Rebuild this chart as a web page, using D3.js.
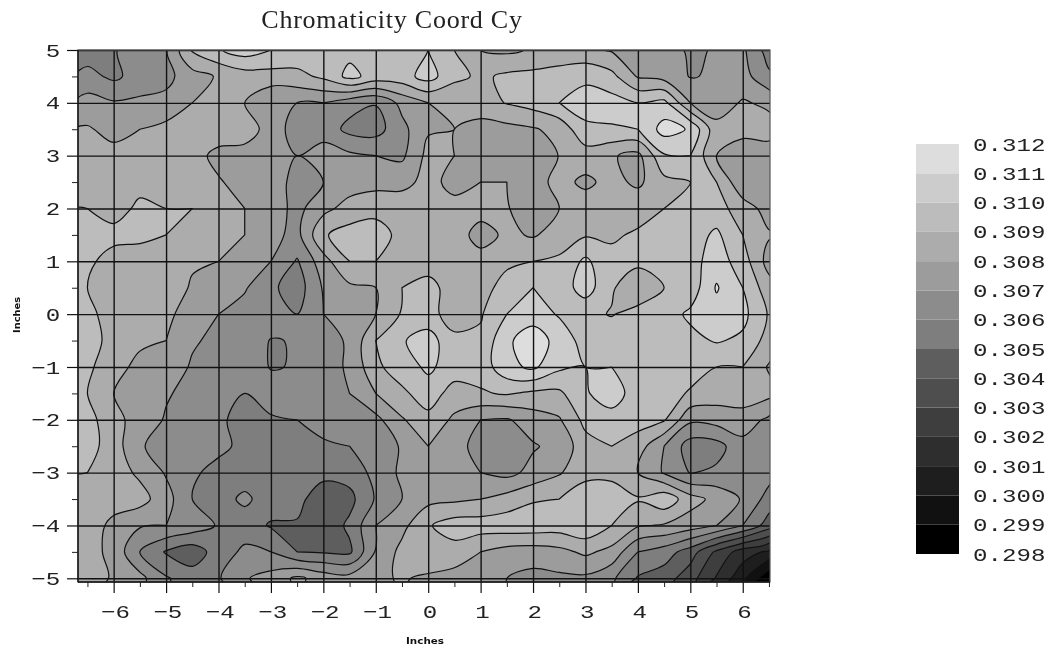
<!DOCTYPE html>
<html>
<head>
<meta charset="utf-8">
<script src="https://cdn.jsdelivr.net/npm/d3@7"></script>
<style>
body { margin: 0; background: #fff; }
svg { display: block; filter: blur(0.3px); }
.tick text { font-family: "Liberation Mono", monospace; fill: #222; }
.title { font-family: "Liberation Serif", serif; font-size: 26px; letter-spacing: 0.75px; fill: #222; }
.unit { font-family: "DejaVu Sans", sans-serif; font-size: 9px; font-weight: bold; fill: #111; }
</style>
</head>
<body>
<svg width="1052" height="650"></svg>
<script>
var gridX = d3.range(27).map(function(i) { return -6.5 + i * 0.5; });
var gridY = d3.range(21).map(function(i) { return 5 - i * 0.5; });

var rowP50 = [305.5,305.9,306.6,306.9,309.1,309.9,310.5,310.0,309.7,309.7,309.7,309.7,309.9,310.0,309.0,308.0,307.8,308.1,308.4,308.2,307.9,307.5,307.3,306.9,307.05,307.2,305.5];
var rowP45 = [306.3,305.8,306.4,306.7,307.6,308.1,308.5,308.6,308.7,309.2,310.3,309.6,309.6,310.4,309.3,308.8,309.2,309.3,309.4,309.8,309.3,307.9,307.6,306.95,307.1,307.4,306.2];
var rowP40 = [307.4,307.1,307.2,307.3,308.0,308.0,308.0,307.0,307.0,307.0,306.4,306.05,307.3,308.0,308.0,308.6,309.05,309.4,310.0,310.4,310.4,310.0,310.3,308.0,307.5,308.1,307.8];
var rowP35 = [308.1,307.7,308.0,308.3,308.5,308.6,308.5,307.6,306.5,306.6,305.7,305.6,306.7,307.9,308.0,307.6,307.7,307.9,308.3,309.8,309.9,310.0,311.4,310.9,308.3,308.5,308.4];
var rowP30 = [308.5,308.3,308.6,308.6,308.4,307.7,307.6,307.2,307.0,307.4,307.2,307.0,306.8,308.3,308.0,307.6,307.6,307.6,308.02,308.5,308.1,307.7,309.9,310.0,308.0,307.1,307.5];
var rowP25 = [308.6,308.7,308.7,308.6,308.5,308.1,307.6,307.3,306.8,307.0,307.5,307.7,307.7,308.3,307.7,308.0,308.0,307.6,308.3,307.8,308.3,307.8,308.7,309.0,309.0,307.2,307.5];
var rowP20 = [309.0,308.6,309.2,309.0,309.0,308.4,308.0,307.5,306.7,307.7,308.4,308.6,308.6,308.6,308.3,308.4,308.05,307.6,308.0,308.5,308.6,308.7,309.0,309.2,309.4,308.5,307.6];
var rowP15 = [309.4,309.3,309.2,309.0,308.9,308.4,308.0,307.3,306.7,308.9,309.4,309.6,308.6,308.6,308.5,307.6,308.2,307.9,308.4,308.9,308.9,309.1,309.4,309.5,310.2,309.0,308.1];
var rowP10 = [309.2,308.6,308.6,308.6,308.1,308.0,307.6,307.0,305.9,307.6,309.0,309.0,308.8,308.6,308.15,308.4,308.9,309.0,309.2,310.2,309.2,309.2,309.5,309.6,310.5,309.5,307.6];
var rowP05 = [309.0,308.5,308.5,308.5,307.9,307.6,307.1,306.2,305.5,307.1,307.8,308.0,309.0,309.3,308.6,308.8,309.2,310.0,309.4,310.5,309.1,308.4,309.0,309.4,311.1,310.0,308.4];
var rowZ00 = [309.3,308.5,308.4,308.1,307.8,307.0,306.6,306.6,306.0,307.0,307.5,308.0,309.1,309.3,308.6,308.9,310.0,310.5,309.9,309.2,308.95,309.3,309.5,310.2,310.6,310.3,308.9];
var rowM05 = [309.5,308.6,308.2,308.0,307.1,306.8,306.6,305.95,306.05,306.7,307.1,309.0,309.9,310.5,309.2,309.2,310.8,311.6,310.6,309.6,309.5,309.5,309.7,309.7,310.1,309.8,308.6];
var rowM10 = [309.2,308.4,307.7,307.5,306.9,306.0,306.5,305.95,306.05,306.7,307.1,308.8,309.5,310.2,309.5,309.4,310.7,311.2,310.2,310.0,310.0,309.5,309.5,309.4,309.0,309.0,307.9];
var rowM15 = [309.0,308.0,307.5,307.1,306.7,306.0,306.0,306.4,306.5,306.6,307.0,308.0,308.8,309.5,308.6,308.9,309.1,308.8,308.8,309.9,310.5,309.5,309.4,308.9,308.5,308.6,308.3];
var rowM20 = [309.4,308.3,307.6,306.9,306.5,306.2,305.6,305.9,306.0,306.5,306.8,306.7,307.9,308.7,307.8,307.0,306.9,307.5,307.9,309.3,309.6,309.4,309.1,307.2,307.4,307.5,306.8];
var rowM25 = [309.4,308.5,307.1,306.6,306.4,306.3,305.7,305.6,305.5,305.8,306.0,306.4,307.1,308.0,307.4,306.6,306.4,306.9,307.3,308.6,309.0,308.5,307.0,305.5,305.6,306.7,306.8];
var rowM30 = [309.0,308.5,307.8,306.9,306.2,305.6,305.5,305.6,305.4,305.3,305.4,306.3,307.2,307.6,307.4,307.0,306.7,307.3,307.9,308.7,308.7,308.0,306.9,305.95,306.2,307.0,306.4];
var rowM35 = [308.6,308.5,308.4,307.4,306.0,305.6,306.2,305.5,305.3,304.4,304.7,306.1,307.0,307.7,307.8,308.0,308.4,308.9,309.0,309.6,309.6,309.1,309.7,308.4,307.7,306.9,305.6];
var rowM40 = [308.6,307.7,307.1,307.0,306.6,305.9,305.5,304.9,304.9,304.3,305.2,307.0,307.7,308.9,309.5,309.5,309.6,309.6,309.5,309.8,309.0,308.1,307.9,307.5,307.0,306.0,304.5];
var rowM45 = [308.4,307.7,306.0,304.9,304.4,305.5,306.2,306.0,305.0,304.9,304.8,307.1,308.3,308.9,308.6,308.0,307.6,307.5,307.7,308.2,307.7,306.0,305.5,304.5,302.8,301.5,300.8];
var rowM50 = [308.4,307.9,307.3,306.1,305.5,305.9,306.9,307.4,308.2,307.6,307.4,307.8,308.1,307.8,307.6,307.4,307.0,306.7,306.8,306.8,306.2,304.9,304.5,303.4,301.9,300.3,298.1];

var levels = [298,299,300,301,302,303,304,305,306,307,308,309,310,311];
var bandGreys = ['#000000','#111111','#1e1e1e','#2e2e2e','#3e3e3e','#4e4e4e','#5e5e5e','#7e7e7e','#8c8c8c','#9c9c9c','#acacac','#bcbcbc','#cccccc','#dddddd'];
var legendTicks = [298,299,300,301,302,303,304,305,306,307,308,309,310,311,312];
var xTicks = [-6,-5,-4,-3,-2,-1,0,1,2,3,4,5,6];
var yTicks = [-5,-4,-3,-2,-1,0,1,2,3,4,5];
var xMinor = [-6.5,-5.5,-4.5,-3.5,-2.5,-1.5,-0.5,0.5,1.5,2.5,3.5,4.5,5.5,6.5];
var yMinor = [-4.5,-3.5,-2.5,-1.5,-0.5,0.5,1.5,2.5,3.5,4.5];

var svg = d3.select('svg');

var plot = { l: 78, r: 770, t: 50, b: 582 };

var xScale = d3.scaleLinear().domain([-6.68, 6.52]).range([plot.l, plot.r]);
var yScale = d3.scaleLinear().domain([-5.07, 5]).range([plot.b, plot.t]);
var legendScale = d3.scaleLinear().domain([298, 312]).range([554, 144]);

// flatten the rows for d3.contours (grid values sit on cell centres)
var rows = [rowP50,rowP45,rowP40,rowP35,rowP30,rowP25,rowP20,rowP15,rowP10,rowP05,rowZ00,
    rowM05,rowM10,rowM15,rowM20,rowM25,rowM30,rowM35,rowM40,rowM45,rowM50];
var values = d3.merge(rows);

var contours = d3.contours()
    .size([gridX.length, gridY.length])
    .thresholds(levels)(values);

var ringLine = d3.line()
    .x(function(p) { return xScale(gridX[0] + (p[0] - 0.5) * (gridX[1] - gridX[0])); })
    .y(function(p) { return yScale(gridY[0] + (p[1] - 0.5) * (gridY[1] - gridY[0])); })
    .curve(d3.curveCatmullRomClosed.alpha(0.5));

function contourPath(d) {
    var out = '';
    d.coordinates.forEach(function(polygon) {
        polygon.forEach(function(ring) {
            out += ringLine(ring.slice(0, -1));
        });
    });
    return out;
}

svg.append('clipPath').attr('id', 'plotClip')
    .append('rect')
    .attr('x', plot.l).attr('y', plot.t)
    .attr('width', plot.r - plot.l).attr('height', plot.b - plot.t);

svg.append('g')
    .attr('clip-path', 'url(#plotClip)')
    .selectAll('path')
    .data(contours)
    .enter().append('path')
    .attr('d', contourPath)
    .attr('fill-rule', 'evenodd')
    .attr('fill', function(d, i) { return bandGreys[i]; })
    .attr('stroke', '#111')
    .attr('stroke-width', 1.2)
    .attr('stroke-linejoin', 'round');

// grid lines
var gridStyle = function(g) {
    g.select('.domain').remove();
    g.selectAll('.tick line').attr('stroke', '#111').attr('stroke-width', 1.4);
    g.selectAll('.tick text').remove();
};

svg.append('g')
    .attr('transform', 'translate(0,' + plot.b + ')')
    .call(d3.axisBottom(xScale).tickValues(xTicks).tickSize(plot.t - plot.b).tickFormat(''))
    .call(gridStyle);

svg.append('g')
    .attr('transform', 'translate(' + plot.l + ',0)')
    .call(d3.axisLeft(yScale).tickValues(yTicks).tickSize(plot.l - plot.r).tickFormat(''))
    .call(gridStyle);

// frame
svg.append('rect')
    .attr('x', plot.l).attr('y', plot.t)
    .attr('width', plot.r - plot.l).attr('height', plot.b - plot.t)
    .attr('fill', 'none').attr('stroke', '#555').attr('stroke-width', 1.2);
svg.append('line')
    .attr('x1', plot.l).attr('x2', plot.r)
    .attr('y1', plot.b).attr('y2', plot.b)
    .attr('stroke', '#111').attr('stroke-width', 1.4);
svg.append('line')
    .attr('x1', plot.l).attr('x2', plot.l)
    .attr('y1', plot.t).attr('y2', plot.b)
    .attr('stroke', '#111').attr('stroke-width', 1.4);

// outer ticks and labels
var labelFormat = function(d) { return d < 0 ? '\u2212' + (-d) : '' + d; };

var xAxis = svg.append('g')
    .attr('transform', 'translate(0,' + plot.b + ')')
    .call(d3.axisBottom(xScale).tickValues(xTicks).tickSize(11).tickSizeOuter(0).tickFormat(labelFormat));
xAxis.select('.domain').remove();
xAxis.selectAll('.tick line').attr('stroke', '#111').attr('stroke-width', 1.2);
xAxis.selectAll('.tick text')
    .attr('font-size', 19)
    .attr('y', 36)
    .attr('dy', 0)
    .attr('x', 1)
    .attr('transform', 'scale(1.27,1)');

var yAxis = svg.append('g')
    .attr('transform', 'translate(' + plot.l + ',0)')
    .call(d3.axisLeft(yScale).tickValues(yTicks).tickSize(11).tickSizeOuter(0).tickFormat(labelFormat));
yAxis.select('.domain').remove();
yAxis.selectAll('.tick line').attr('stroke', '#111').attr('stroke-width', 1.2);
yAxis.selectAll('.tick text')
    .attr('font-size', 19)
    .attr('x', -14)
    .attr('transform', 'scale(1.27,1)');

// half inch ticks
var minorX = svg.append('g')
    .attr('transform', 'translate(0,' + plot.b + ')')
    .call(d3.axisBottom(xScale).tickValues(xMinor).tickSize(5).tickFormat(''));
minorX.select('.domain').remove();
minorX.selectAll('.tick line').attr('stroke', '#222').attr('stroke-width', 1);

var minorY = svg.append('g')
    .attr('transform', 'translate(' + plot.l + ',0)')
    .call(d3.axisLeft(yScale).tickValues(yMinor).tickSize(6).tickFormat(''));
minorY.select('.domain').remove();
minorY.selectAll('.tick line').attr('stroke', '#222').attr('stroke-width', 1);

// titles
svg.append('text')
    .attr('class', 'title')
    .attr('text-anchor', 'middle')
    .attr('x', 392).attr('y', 28)
    .text('Chromaticity Coord Cy');

svg.append('text')
    .attr('class', 'unit')
    .attr('text-anchor', 'middle')
    .attr('x', 425).attr('y', 644)
    .attr('textLength', 38)
    .attr('lengthAdjust', 'spacingAndGlyphs')
    .text('Inches');

svg.append('text')
    .attr('class', 'unit')
    .attr('text-anchor', 'middle')
    .attr('transform', 'translate(20,315) rotate(-90)')
    .attr('textLength', 36)
    .attr('lengthAdjust', 'spacingAndGlyphs')
    .text('Inches');

// legend
svg.append('g')
    .selectAll('rect')
    .data(levels)
    .enter().append('rect')
    .attr('x', 916)
    .attr('width', 43)
    .attr('y', function(d) { return legendScale(d + 1); })
    .attr('height', function(d) { return legendScale(d) - legendScale(d + 1); })
    .attr('fill', function(d, i) { return bandGreys[i]; });

var legendAxis = svg.append('g')
    .attr('transform', 'translate(973,0)')
    .call(d3.axisRight(legendScale)
        .tickValues(legendTicks)
        .tickSize(0)
        .tickPadding(0)
        .tickFormat(function(d) { return d3.format('.3f')(d / 1000); }));
legendAxis.select('.domain').remove();
legendAxis.selectAll('.tick text')
    .attr('font-size', 19)
    .attr('transform', 'scale(1.27,1)');
</script>
</body>
</html>
